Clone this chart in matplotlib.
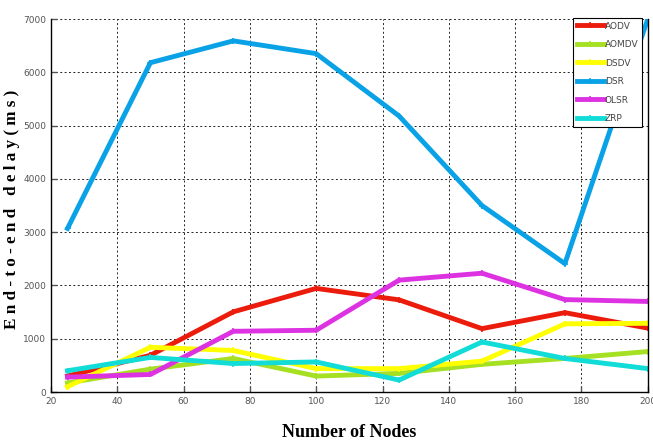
import matplotlib
matplotlib.use("Agg")
import matplotlib.pyplot as plt

nodes = [25, 50, 75, 100, 125, 150, 175, 200]
aodv = [300, 690, 1505, 1945, 1730, 1190, 1490, 1200]
aomdv = [170, 430, 630, 300, 350, 520, 630, 760]
dsdv = [100, 840, 780, 440, 440, 580, 1280, 1290]
dsr = [3070, 6180, 6590, 6350, 5180, 3500, 2410, 7000]
olsr = [280, 330, 1140, 1160, 2100, 2230, 1735, 1700]
zrp = [400, 650, 535, 565, 225, 940, 630, 440]

series = [
    ("AODV", aodv, "#ec1c0c"),
    ("AOMDV", aomdv, "#a6e022"),
    ("DSDV", dsdv, "#ffff00"),
    ("DSR", dsr, "#0aa2e6"),
    ("OLSR", olsr, "#dc32e2"),
    ("ZRP", zrp, "#12dcd8"),
]
xticks = [20, 40, 60, 80, 100, 120, 140, 160, 180, 200]
yticks = [0, 1000, 2000, 3000, 4000, 5000, 6000, 7000]

fig = plt.figure(figsize=(6.53, 4.42), dpi=100)
ax = fig.add_axes([0.078, 0.113, 0.914, 0.844])

for name, vals, col in series:
    ax.plot(nodes, vals, color=col, lw=3.5, marker="+", markersize=5,
            markeredgecolor=col, markeredgewidth=1.2, label=name)

ax.set_xlim(20, 200)
ax.set_ylim(0, 7000)
ax.set_xticks(xticks)
ax.set_yticks(yticks)
ax.grid(True, color="#222222", linestyle=(0, (2, 2.5)), linewidth=0.7)
ax.tick_params(direction="in", length=4, width=1, colors="#555555",
               labelsize=6.5, labelcolor="#555555")
ax.spines["top"].set_visible(False)
for s in ["left", "bottom", "right"]:
    ax.spines[s].set_color("black")
    ax.spines[s].set_linewidth(1)

ax.set_xlabel("Number of Nodes", family="Liberation Serif", fontweight="bold",
              fontsize=13)
ax.xaxis.set_label_coords(0.5, -0.085)
ax.set_ylabel("E n d - t o - e n d   d e l a y ( m s )", family="Liberation Serif",
              fontweight="bold", fontsize=12.3)
ax.yaxis.set_label_coords(-0.052, 0.49)

leg = ax.legend(loc="upper right", bbox_to_anchor=(0.995, 1.01), fontsize=6.5,
                frameon=True, fancybox=False, edgecolor="black", framealpha=1,
                handlelength=3.0, handletextpad=0.1, borderpad=0.4,
                labelspacing=1.05, borderaxespad=0.3)
leg.get_frame().set_linewidth(0.8)
for t in leg.get_texts():
    t.set_color("#444444")

fig.savefig("out.png", dpi=100)
